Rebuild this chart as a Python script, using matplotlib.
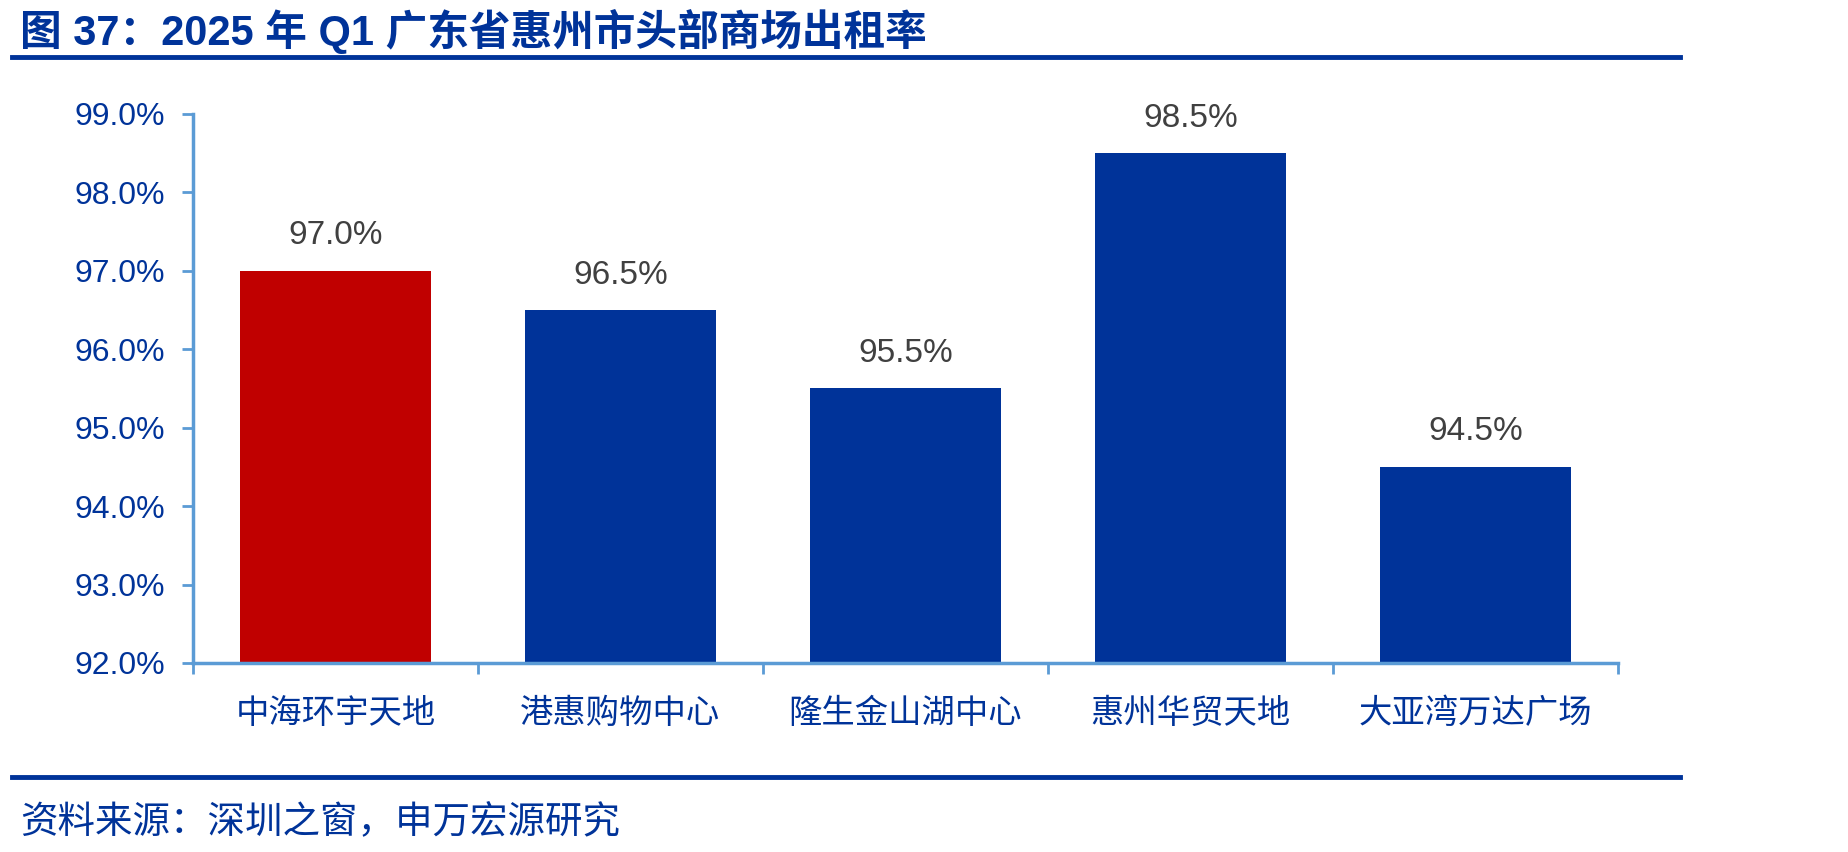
import matplotlib
matplotlib.use("Agg")
import matplotlib.pyplot as plt
from matplotlib.ticker import FuncFormatter

plt.rcParams['font.family'] = ['Liberation Sans', 'Noto Sans CJK SC', 'DejaVu Sans']

# data
malls = ['中海环宇天地', '港惠购物中心', '隆生金山湖中心', '惠州华贸天地', '大亚湾万达广场']
occupancy = [97.0, 96.5, 95.5, 98.5, 94.5]
bar_colors = ['#C00000', '#003399', '#003399', '#003399', '#003399']
y_ticks = [92, 93, 94, 95, 96, 97, 98, 99]

title = '图 37：2025 年 Q1 广东省惠州市头部商场出租率'
source = '资料来源：深圳之窗，申万宏源研究'

blue = '#003399'
axis_blue = '#5B9BD5'

W, H = 1849, 852
fig = plt.figure(figsize=(W / 100, H / 100), dpi=100)

# axes placement in pixels
left, right, top, bottom = 193, 1618, 114, 663
ax = fig.add_axes([left / W, 1 - bottom / H, (right - left) / W, (bottom - top) / H])

x = range(len(malls))
ax.bar(x, [v - 92 for v in occupancy], bottom=92, width=0.667, color=bar_colors)
for i, v in enumerate(occupancy):
    ax.annotate(f'{v:.1f}%', (i, v), xytext=(0, 14), textcoords='offset points',
                ha='center', va='bottom', fontsize=24, color='#404040')

ax.set_ylim(92, 99)
ax.set_xlim(-0.5, len(malls) - 0.5)
ax.set_yticks(y_ticks)
ax.yaxis.set_major_formatter(FuncFormatter(lambda v, p: f'{v:.1f}%'))
ax.set_xticks([i - 0.5 for i in range(len(malls) + 1)], minor=False)
ax.set_xticklabels([''] * (len(malls) + 1))
ax.set_xticks(list(x), minor=True)
ax.set_xticklabels(malls, minor=True, fontsize=24, color=blue,
                   family=['Noto Sans CJK SC'])
ax.tick_params(axis='x', which='minor', length=0, pad=24)
ax.tick_params(axis='x', which='major', direction='out', length=8, color=axis_blue, width=2)
ax.tick_params(axis='y', direction='out', length=8, color=axis_blue, width=2,
               labelsize=23, labelcolor=blue, pad=12)

for s in ['top', 'right']:
    ax.spines[s].set_visible(False)
for s in ['left', 'bottom']:
    ax.spines[s].set_color(axis_blue)
    ax.spines[s].set_linewidth(2.5)

# title and rules
fig.text(20 / W, 1 - 31 / H, title, fontsize=30, fontweight='bold', color=blue,
         va='center', ha='left', family=['Liberation Sans', 'Noto Sans CJK SC'])
fig.add_artist(plt.Line2D([12 / W, 1680 / W], [1 - 57 / H, 1 - 57 / H], color=blue, lw=3.5))
fig.add_artist(plt.Line2D([12 / W, 1680 / W], [1 - 777 / H, 1 - 777 / H], color=blue, lw=3.5))
fig.text(20 / W, 1 - 823 / H, source, fontsize=27, color=blue, va='center', ha='left',
         family=['Noto Sans CJK SC'])

fig.savefig('out.png', dpi=100)
